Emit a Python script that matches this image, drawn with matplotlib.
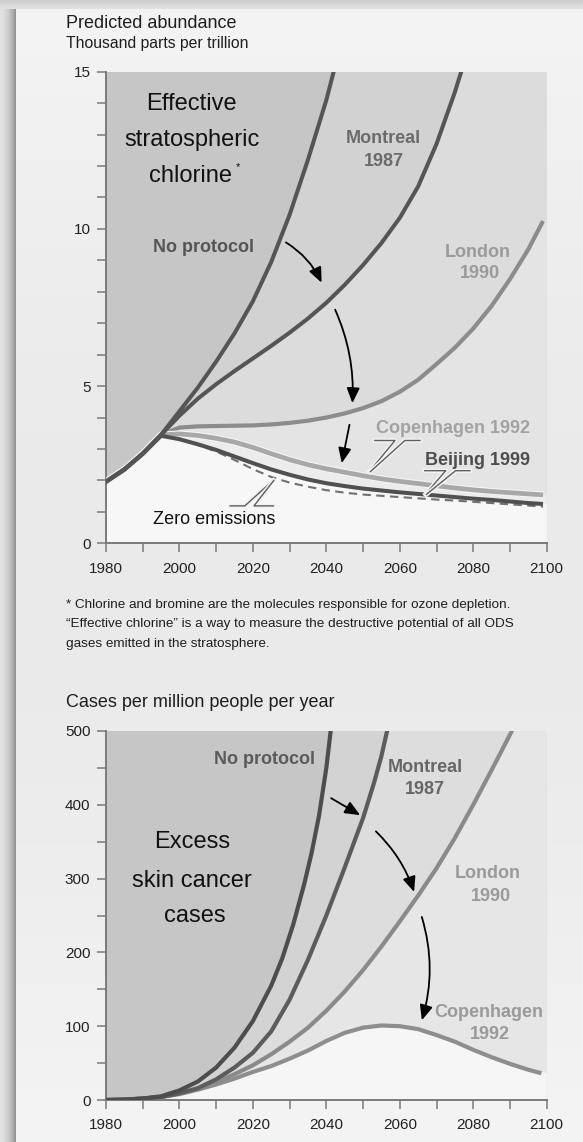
import matplotlib
matplotlib.use("Agg")
import matplotlib.pyplot as plt
import numpy as np
from matplotlib import font_manager
import matplotlib.patheffects as pe

# ---------------- data ----------------
# Top chart: effective stratospheric chlorine (thousand ppt)
np_years = [1980, 1985, 1990, 1995, 2000, 2005, 2010, 2015, 2020, 2025, 2030, 2035, 2040, 2042]
np_vals = [1.96, 2.35, 2.85, 3.45, 4.2, 4.95, 5.78, 6.68, 7.7, 8.95, 10.45, 12.2, 14.1, 15.0]

mont_years = [1980, 1985, 1990, 1995, 2000, 2005, 2010, 2015, 2020, 2025, 2030, 2035, 2040,
              2045, 2050, 2055, 2060, 2065, 2070, 2075, 2077]
mont_vals = [1.96, 2.35, 2.85, 3.45, 4.06, 4.6, 5.06, 5.48, 5.88, 6.28, 6.7, 7.15, 7.65,
             8.22, 8.85, 9.55, 10.35, 11.35, 12.7, 14.35, 15.1]

scen_years = [1980, 1985, 1990, 1995, 2000, 2005, 2010, 2015, 2020, 2025, 2030, 2035, 2040,
              2045, 2050, 2055, 2060, 2065, 2070, 2075, 2080, 2085, 2090, 2095, 2099]
lon_vals = [1.96, 2.35, 2.85, 3.45, 3.68, 3.72, 3.73, 3.74, 3.75, 3.78, 3.83, 3.9, 4.0,
            4.13, 4.3, 4.52, 4.82, 5.2, 5.7, 6.22, 6.83, 7.55, 8.4, 9.35, 10.25]
cop_vals = [1.96, 2.35, 2.85, 3.45, 3.48, 3.43, 3.34, 3.22, 3.05, 2.85, 2.66, 2.5, 2.37,
            2.26, 2.15, 2.05, 1.97, 1.9, 1.83, 1.76, 1.7, 1.65, 1.61, 1.57, 1.54]
bei_vals = [1.96, 2.35, 2.85, 3.42, 3.31, 3.15, 2.97, 2.76, 2.55, 2.35, 2.18, 2.03, 1.91,
            1.82, 1.74, 1.68, 1.62, 1.57, 1.52, 1.47, 1.42, 1.38, 1.33, 1.28, 1.25]
zero_vals = [1.96, 2.35, 2.85, 3.42, 3.3, 3.13, 2.92, 2.65, 2.36, 2.11, 1.93, 1.8, 1.69,
             1.61, 1.55, 1.51, 1.47, 1.43, 1.39, 1.36, 1.32, 1.28, 1.24, 1.2, 1.17]

# Bottom chart: excess skin cancer cases per million per year
bnp_years = [1980, 1985, 1990, 1995, 2000, 2005, 2010, 2015, 2020, 2025, 2028, 2031, 2034,
             2036, 2038, 2040, 2041.3]
bnp_vals = [0, 0.5, 2, 5, 13, 25, 44, 71, 107, 155, 192, 238, 293, 335, 385, 450, 505]

bmont_years = [1980, 1985, 1990, 1995, 2000, 2005, 2010, 2015, 2020, 2025, 2030, 2035, 2040,
               2045, 2050, 2053, 2055, 2057]
bmont_vals = [0, 0.5, 2, 4, 9, 16, 28, 44, 64, 93, 136, 190, 250, 315, 382, 430, 466, 510]

blon_years = [1980, 1985, 1990, 1995, 2000, 2005, 2010, 2015, 2020, 2025, 2030, 2035, 2040,
              2045, 2050, 2055, 2060, 2065, 2070, 2075, 2080, 2085, 2090, 2091.5]
blon_vals = [0, 0.5, 2, 4, 9, 15, 24, 35, 47, 62, 79, 98, 121, 147, 176, 208, 242, 277, 314,
             355, 400, 447, 495, 510]

bcop_years = [1980, 1985, 1990, 1995, 2000, 2005, 2010, 2015, 2020, 2025, 2030, 2035, 2040,
              2045, 2050, 2055, 2060, 2065, 2070, 2075, 2080, 2085, 2090, 2095, 2098]
bcop_vals = [0, 0.5, 2, 4, 8, 14, 21, 29, 38, 46, 56, 67, 80, 91, 98, 101, 100, 96, 88, 79,
             68, 58, 49, 41, 37]

x_ticks = [1980, 2000, 2020, 2040, 2060, 2080, 2100]
top_yticks = [0, 5, 10, 15]
bot_yticks = [0, 100, 200, 300, 400, 500]

# ---------------- figure ----------------
W, H = 583, 1142
fig = plt.figure(figsize=(W / 100, H / 100), dpi=100)

names = {f.name for f in font_manager.fontManager.ttflist}
BASE = "Liberation Sans" if "Liberation Sans" in names else "DejaVu Sans"
NARROW = "Liberation Sans Narrow" in names
BIGFAM = "Liberation Sans Narrow" if NARROW else BASE
BIGSIZE = 19 if NARROW else 17
plt.rcParams["font.family"] = [BASE, "DejaVu Sans"]

# background panel with soft shadow
bg = fig.add_axes([0, 0, 1, 1], zorder=0)
bg.axis("off")
yy = np.linspace(0, 1, H)[:, None]
xx = np.arange(W)[None, :]
img = 0.955 - 0.04 * np.sin(np.pi * yy) * np.ones((1, W))
left = xx < 16
shade = 0.88 - 0.3 * (np.clip(xx, 0, 15) / 15.0) ** 2
img = np.where(left, shade * np.ones((H, 1)), img)
top = (np.arange(H)[:, None] < 9) & (xx >= 0)
img = np.where(top, 0.80 + 0.01 * np.arange(H)[:, None], img)
bg.imshow(img, cmap="gray", vmin=0, vmax=1, extent=[0, W, H, 0], aspect="auto",
          interpolation="bilinear")
bg.set_xlim(0, W)
bg.set_ylim(H, 0)


def T(x, y, s, **kw):
    kw.setdefault("va", "baseline")
    fig.text(x / W, 1 - y / H, s, **kw)


def style_axes(ax, ymin, ymax, yticks, yminor):
    ax.set_xlim(1980, 2100)
    ax.set_ylim(ymin, ymax)
    ax.set_xticks(x_ticks)
    ax.set_xticks([1990, 2010, 2030, 2050, 2070, 2090], minor=True)
    ax.set_yticks(yticks)
    ax.set_yticks(yminor, minor=True)
    for s in ["top", "right"]:
        ax.spines[s].set_visible(False)
    for s in ["left", "bottom"]:
        ax.spines[s].set_color("#7a7a7a")
        ax.spines[s].set_linewidth(1.4)
    ax.tick_params(which="both", direction="out", length=6.2, width=1.1, color="#7a7a7a")
    ax.tick_params(axis="y", labelsize=11, pad=5, labelcolor="#222222")
    ax.tick_params(axis="x", labelsize=11, pad=7, labelcolor="#222222")
    ax.set_facecolor("none")


C1, C2, C3, C4, C5, CW = "#c6c6c6", "#d2d2d2", "#dcdcdc", "#e4e4e4", "#ececec", "#f7f7f7"

# ---------------- top chart ----------------
ax1 = fig.add_axes([106 / W, 1 - 543.3 / H, 440.67 / W, 471.6 / H], zorder=2)
style_axes(ax1, 0, 15, top_yticks, [v for v in range(16) if v % 5])
ax1.axvspan(1980, 2100, color=C3, zorder=0, lw=0)
ax1.fill(scen_years + [2100, 2100], lon_vals + [lon_vals[-1], 0], color=C4, lw=0, zorder=0.1)
ax1.fill(scen_years + [2100, 2100], cop_vals + [cop_vals[-1], 0], color=C5, lw=0, zorder=0.2)
ax1.fill(scen_years + [2100, 2100, 1980], bei_vals + [bei_vals[-1], 0, 0], color=CW, lw=0, zorder=0.3)
ax1.fill(mont_years + [1980], mont_vals + [mont_vals[-1]], color=C2, lw=0, zorder=0.4)
ax1.fill(np_years + [1980], np_vals + [np_vals[-1]], color=C1, lw=0, zorder=0.5)

ax1.plot(scen_years, lon_vals, color="#8c8c8c", lw=3.0, zorder=3, solid_capstyle="butt")
ax1.plot(scen_years, cop_vals, color="#a8a8a8", lw=3.4, zorder=3, solid_capstyle="butt",
         path_effects=[pe.withStroke(linewidth=5.0, foreground="#f4f4f4")])
ax1.plot(scen_years[4:], zero_vals[4:], color="#707070", lw=1.5, ls=(0, (4, 2.6)), zorder=3)
ax1.plot(scen_years, bei_vals, color="#505050", lw=2.9, zorder=3.2, solid_capstyle="butt")
ax1.plot(mont_years, mont_vals, color="#555555", lw=2.9, zorder=3.3)
ax1.plot(np_years, np_vals, color="#555555", lw=2.9, zorder=3.4)

arrow_kw = dict(arrowstyle="-|>,head_length=0.65,head_width=0.28", color="black", lw=1.3,
                shrinkA=0, shrinkB=0, mutation_scale=14)
ax1.annotate("", xy=(2038.7, 8.29), xytext=(2029.0, 9.57),
             arrowprops=dict(connectionstyle="arc3,rad=-0.15", **arrow_kw), zorder=5)
ax1.annotate("", xy=(2047.1, 4.46), xytext=(2042.4, 7.43),
             arrowprops=dict(connectionstyle="arc3,rad=-0.12", **arrow_kw), zorder=5)
ax1.annotate("", xy=(2044.2, 2.55), xytext=(2046.3, 3.77),
             arrowprops=dict(connectionstyle="arc3,rad=0.0", **arrow_kw), zorder=5)

call_kw = dict(color="#5e5e5e", lw=1.0, zorder=4,
               path_effects=[pe.withStroke(linewidth=3.2, foreground="#f2f2f2")])
# Copenhagen callout
ax1.plot([2053.2, 2058.7, 2051.7], [3.27, 3.27, 2.28], **call_kw)
ax1.plot([2065.5, 2061.4, 2052.0], [3.27, 3.27, 2.28], **call_kw)
# Beijing callout
ax1.plot([2066.8, 2072.5, 2067.0], [2.31, 2.31, 1.56], **call_kw)
ax1.plot([2079.1, 2075.2, 2067.3], [2.31, 2.31, 1.56], **call_kw)
# Zero emissions callout
ax1.plot([2013.8, 2017.8, 2025.3], [1.19, 1.19, 1.98], **call_kw)
ax1.plot([2025.6, 2020.3, 2025.7], [1.19, 1.19, 2.0], **call_kw)

# ---------------- bottom chart ----------------
ax2 = fig.add_axes([106 / W, 1 - 1100 / H, 440.67 / W, 369 / H], zorder=2)
style_axes(ax2, 0, 500, bot_yticks, [50, 150, 250, 350, 450])
ax2.axvspan(1980, 2100, color="#dddddd", zorder=0, lw=0)
ax2.fill(blon_years + [2100, 2100], blon_vals + [blon_vals[-1], 0], color="#e6e6e6", lw=0, zorder=0.1)
ax2.fill(bcop_years + [2100, 2100], bcop_vals + [bcop_vals[-1], 0], color="#f6f6f6", lw=0, zorder=0.2)
ax2.fill(bmont_years + [1980], bmont_vals + [bmont_vals[-1]], color="#d3d3d3", lw=0, zorder=0.4)
ax2.fill(bnp_years + [1980], bnp_vals + [bnp_vals[-1]], color=C1, lw=0, zorder=0.5)

ax2.plot(bcop_years, bcop_vals, color="#8e8e8e", lw=3.0, zorder=3)
ax2.plot(blon_years, blon_vals, color="#8a8a8a", lw=3.0, zorder=3.1)
ax2.plot(bmont_years, bmont_vals, color="#5c5c5c", lw=3.0, zorder=3.2)
ax2.plot(bnp_years, bnp_vals, color="#4d4d4d", lw=3.0, zorder=3.3)

ax2.annotate("", xy=(2049.2, 386), xytext=(2041.3, 409),
             arrowprops=dict(connectionstyle="arc3,rad=0.0", **arrow_kw), zorder=5)
ax2.annotate("", xy=(2063.9, 282), xytext=(2053.5, 364),
             arrowprops=dict(connectionstyle="arc3,rad=-0.12", **arrow_kw), zorder=5)
ax2.annotate("", xy=(2066.0, 108), xytext=(2066.0, 248),
             arrowprops=dict(connectionstyle="arc3,rad=-0.15", **arrow_kw), zorder=5)

# ---------------- texts ----------------
ink = "#1e1e1e"
T(66, 28.3, "Predicted abundance", fontsize=13, color=ink)
T(66, 48.3, "Thousand parts per trillion", fontsize=11.3, color=ink)

T(191.7, 110, "Effective", fontsize=BIGSIZE, family=BIGFAM, color="#111111", ha="center")
T(191.7, 146, "stratospheric", fontsize=BIGSIZE, family=BIGFAM, color="#111111", ha="center")
T(190, 181.7, "chlorine", fontsize=BIGSIZE, family=BIGFAM, color="#111111", ha="center")
T(237.5, 170, "*", fontsize=8, color="#111111", ha="center")

bold = dict(fontsize=13, fontweight="bold", ha="center")
T(383.8, 143.3, "Montreal", color="#6b6b6b", **bold)
T(383.5, 166, "1987", color="#6b6b6b", **bold)
T(203.8, 251.7, "No protocol", color="#555555", **bold)
T(477.8, 256.7, "London", color="#9a9a9a", **bold)
T(480, 278.3, "1990", color="#9a9a9a", **bold)
T(452.8, 432.7, "Copenhagen 1992", color="#a2a2a2", **bold)
T(477.8, 465, "Beijing 1999", color="#4d4d4d", **bold)
T(213.8, 524, "Zero emissions", fontsize=13, color="#111111", ha="center")

foot = dict(fontsize=9.7, color=ink)
T(66, 608.3, "* Chlorine and bromine are the molecules responsible for ozone depletion.", **foot)
T(66, 627.5, "\u201cEffective chlorine\u201d is a way to measure the destructive potential of all ODS", **foot)
T(66, 646.7, "gases emitted in the stratosphere.", **foot)

T(66, 706.7, "Cases per million people per year", fontsize=13, color=ink)

T(264.5, 764.3, "No protocol", color="#5a5a5a", **bold)
T(425.3, 771.7, "Montreal", color="#666666", **bold)
T(425.3, 794, "1987", color="#666666", **bold)
T(488, 878.3, "London", color="#9a9a9a", **bold)
T(490.5, 900.7, "1990", color="#9a9a9a", **bold)
T(488.8, 1016.7, "Copenhagen", color="#9a9a9a", **bold)
T(489.8, 1039.3, "1992", color="#9a9a9a", **bold)

T(191.7, 848.3, "Excess", fontsize=BIGSIZE, family=BIGFAM, color="#111111", ha="center")
T(192, 886.7, "skin cancer", fontsize=BIGSIZE, family=BIGFAM, color="#111111", ha="center")
T(195, 921.7, "cases", fontsize=BIGSIZE, family=BIGFAM, color="#111111", ha="center")

fig.savefig("out.png", dpi=100)
